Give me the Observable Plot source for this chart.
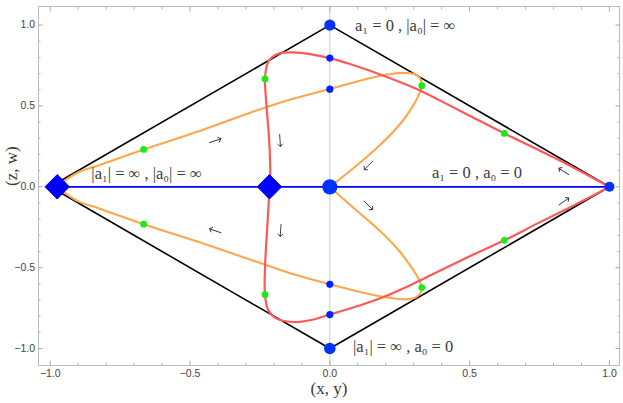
<!DOCTYPE html>
<html><head><meta charset="utf-8">
<script src="https://cdn.jsdelivr.net/npm/d3@7"></script>
<script src="https://cdn.jsdelivr.net/npm/@observablehq/plot@0.6"></script>
<style>body{margin:0;background:#fff} #chart{width:623px;height:403px}</style>
</head><body><div id="chart"></div>
<script>
// ---- data ----
const majorTicks = [-1, -0.5, 0, 0.5, 1];
const minorTicks = [-0.9, -0.8, -0.7, -0.6, -0.4, -0.3, -0.2, -0.1, 0.1, 0.2, 0.3, 0.4, 0.6, 0.7, 0.8, 0.9];

const diamondX = [-1, 0, 1, 0, -1];
const diamondY = [0, 1, 0, -1, 0];

const blueLineX = [-0.975, 1];
const blueLineY = [0, 0];

const orangeUpX = [-0.975, -0.95, -0.9, -0.823, -0.666, -0.463, -0.285, -0.15, 0, 0.132, 0.216, 0.275, 0.311, 0.326, 0.329, 0.317, 0.287, 0.24, 0.168, 0.084, 0];
const orangeUpY = [0, 0.035, 0.09, 0.135, 0.231, 0.347, 0.458, 0.535, 0.605, 0.667, 0.698, 0.704, 0.691, 0.66, 0.625, 0.564, 0.471, 0.365, 0.24, 0.115, 0];
const orangeLoX = [-0.975, -0.95, -0.9, -0.823, -0.666, -0.463, -0.286, -0.15, 0, 0.132, 0.216, 0.275, 0.311, 0.326, 0.329, 0.317, 0.287, 0.24, 0.168, 0.084, 0];
const orangeLoY = [0, -0.035, -0.09, -0.135, -0.231, -0.345, -0.449, -0.53, -0.603, -0.66, -0.687, -0.696, -0.681, -0.65, -0.623, -0.568, -0.486, -0.38, -0.255, -0.13, 0];

const redUpX = [-0.216, -0.213, -0.217, -0.226, -0.232, -0.226, -0.218, -0.205, -0.178, -0.131, -0.071, 0, 0.072, 0.192, 0.311, 0.395, 0.5, 0.624, 0.75, 0.849, 0.93, 1];
const redUpY = [0, 0.08, 0.287, 0.491, 0.667, 0.745, 0.78, 0.803, 0.827, 0.831, 0.821, 0.796, 0.759, 0.687, 0.605, 0.533, 0.44, 0.33, 0.225, 0.14, 0.065, 0];
const redLoX = [-0.216, -0.218, -0.222, -0.232, -0.232, -0.22, -0.19, -0.131, -0.071, 0, 0.072, 0.192, 0.311, 0.395, 0.5, 0.624, 0.75, 0.849, 0.93, 1];
const redLoY = [0, -0.08, -0.198, -0.506, -0.667, -0.764, -0.815, -0.836, -0.825, -0.79, -0.753, -0.681, -0.589, -0.517, -0.43, -0.331, -0.22, -0.135, -0.065, 0];

const greenX = [-0.666, -0.232, 0.329, 0.624, -0.666, -0.232, 0.329, 0.624];
const greenY = [0.231, 0.667, 0.625, 0.33, -0.231, -0.667, -0.623, -0.331];

const smallBlueX = [0, 0, 0, 0];
const smallBlueY = [0.796, 0.604, -0.603, -0.79];

const bigBlueX = [0, 0, 0, 1];
const bigBlueY = [1, 0, -1, 0];
const bigBlueR = [5.6, 7.6, 5.8, 5];

const diamondMarkX = [-0.975, -0.216];
const diamondMarkY = [0, 0];

const labelText = ["a₁ = 0 , |a₀| = ∞", "|a₁| = ∞ , |a₀| = ∞", "a₁ = 0 , a₀ = 0", "|a₁| = ∞ , a₀ = 0"];
const labelX = [0.09, -0.853, 0.365, 0.083];
const labelY = [0.996, 0.082, 0.09, -0.99];

const arrowX = [-0.41, -0.178, 0.138, 0.837, -0.41, -0.176, 0.138, 0.837];
const arrowY = [0.285, 0.286, 0.132, 0.095, -0.272, -0.27, -0.115, -0.091];
const arrowAngle = [-18, 86, 135, -148, -161, 94, 45, -35]; // screen degrees, 0 = pointing right

const xLabel = "(x, y)";
const yLabel = "(z, w)";

// ---- build ----
const pts = (xs, ys) => xs.map((x, i) => ({x, y: ys[i]}));
const mathFont = "'Liberation Serif', 'DejaVu Serif', serif";

const plot = Plot.plot({
  width: 623, height: 403,
  marginLeft: 38, marginRight: 4, marginTop: 6, marginBottom: 38,
  x: {domain: [-1.042, 1.036]},
  y: {domain: [-1.105, 1.115]},
  r: {type: "identity"},
  style: {fontFamily: "'Liberation Sans', Arial, sans-serif", fontSize: "10.5px", background: "#fff"},
  marks: [
    Plot.ruleX([0], {stroke: "#cccccc", strokeWidth: 1}),
    Plot.frame({stroke: "#bdbdbd"}),
    Plot.axisX(majorTicks, {anchor: "bottom", tickSize: -4.5, tickPadding: 9, tickFormat: d3.format(".1f"), stroke: "#a8a8a8", fill: "#444", label: null}),
    Plot.axisX(minorTicks, {anchor: "bottom", tickSize: -2.5, tickFormat: () => "", stroke: "#b5b5b5", label: null}),
    Plot.axisX(majorTicks, {anchor: "top", tickSize: -4.5, tickFormat: () => "", stroke: "#a8a8a8", label: null}),
    Plot.axisX(minorTicks, {anchor: "top", tickSize: -2.5, tickFormat: () => "", stroke: "#b5b5b5", label: null}),
    Plot.axisY(majorTicks, {anchor: "left", tickSize: -4.5, tickPadding: 8, tickFormat: d3.format(".1f"), stroke: "#a8a8a8", fill: "#444", label: null}),
    Plot.axisY(minorTicks, {anchor: "left", tickSize: -2.5, tickFormat: () => "", stroke: "#b5b5b5", label: null}),
    Plot.axisY(majorTicks, {anchor: "right", tickSize: -4.5, tickFormat: () => "", stroke: "#a8a8a8", label: null}),
    Plot.axisY(minorTicks, {anchor: "right", tickSize: -2.5, tickFormat: () => "", stroke: "#b5b5b5", label: null}),
    Plot.line(pts(diamondX, diamondY), {x: "x", y: "y", stroke: "#000", strokeWidth: 1.6}),
    Plot.line(pts(blueLineX, blueLineY), {x: "x", y: "y", stroke: "#0000ff", strokeWidth: 1.8}),
    Plot.line(pts(orangeUpX, orangeUpY), {x: "x", y: "y", stroke: "#ffa64d", strokeWidth: 2.1, curve: "catmull-rom"}),
    Plot.line(pts(orangeLoX, orangeLoY), {x: "x", y: "y", stroke: "#ffa64d", strokeWidth: 2.1, curve: "catmull-rom"}),
    Plot.line(pts(redUpX, redUpY), {x: "x", y: "y", stroke: "#ff5858", strokeWidth: 2.2, curve: "catmull-rom"}),
    Plot.line(pts(redLoX, redLoY), {x: "x", y: "y", stroke: "#ff5858", strokeWidth: 2.2, curve: "catmull-rom"}),
    Plot.dot(pts(greenX, greenY), {x: "x", y: "y", r: 3.4, fill: "#14ee14"}),
    Plot.dot(pts(smallBlueX, smallBlueY), {x: "x", y: "y", r: 3.6, fill: "#0022ff"}),
    Plot.dot(bigBlueX.map((x, i) => ({x, y: bigBlueY[i], r: bigBlueR[i]})), {x: "x", y: "y", r: "r", fill: "#0033ff"}),
    Plot.dot(pts(diamondMarkX, diamondMarkY), {x: "x", y: "y", symbol: "diamond2", r: 11, fill: "#0000ff", stroke: "#0000ff", strokeWidth: 1}),
    Plot.vector(arrowX.map((x, i) => ({x, y: arrowY[i], a: arrowAngle[i] + 90})), {x: "x", y: "y", rotate: "a", length: 12, anchor: "middle", stroke: "#333", strokeWidth: 0.9}),
    Plot.text(labelText.map((t, i) => ({t, x: labelX[i], y: labelY[i]})), {x: "x", y: "y", text: "t", textAnchor: "start", fontSize: 16.5, fontFamily: mathFont, fill: "#3a3a3a", ariaLabel: "mathlabel"}),
    Plot.text([xLabel], {text: d => d, frameAnchor: "bottom", dy: 28, fontSize: 17, fontFamily: mathFont, fill: "#3a3a3a", ariaLabel: "mathlabel"}),
    Plot.text([yLabel], {text: d => d, frameAnchor: "left", dx: -27, rotate: -90, fontSize: 17, fontFamily: mathFont, fill: "#3a3a3a", ariaLabel: "mathlabel"})
  ]
});

// typeset: italic letters, lowered subscripts, wider TeX-like spacing
const subs = {"₀": "0", "₁": "1"};
d3.select(plot).selectAll('g[aria-label="mathlabel"] text').each(function() {
  const s = this.textContent;
  this.textContent = "";
  this.setAttribute("word-spacing", "3.5");
  let lowered = false;
  for (const ch of s) {
    const t = document.createElementNS("http://www.w3.org/2000/svg", "tspan");
    if (subs[ch]) {
      t.textContent = subs[ch];
      t.style.fontSize = "11.5px";
      t.style.fontStyle = "normal";
      if (!lowered) { t.setAttribute("dy", "3.5"); lowered = true; }
    } else {
      t.textContent = ch;
      if (lowered) { t.setAttribute("dy", "-3.5"); lowered = false; }
      t.style.fontStyle = /[a-z]/.test(ch) ? "italic" : "normal";
    }
    this.appendChild(t);
  }
});

document.getElementById("chart").appendChild(plot);
</script>
</body></html>
